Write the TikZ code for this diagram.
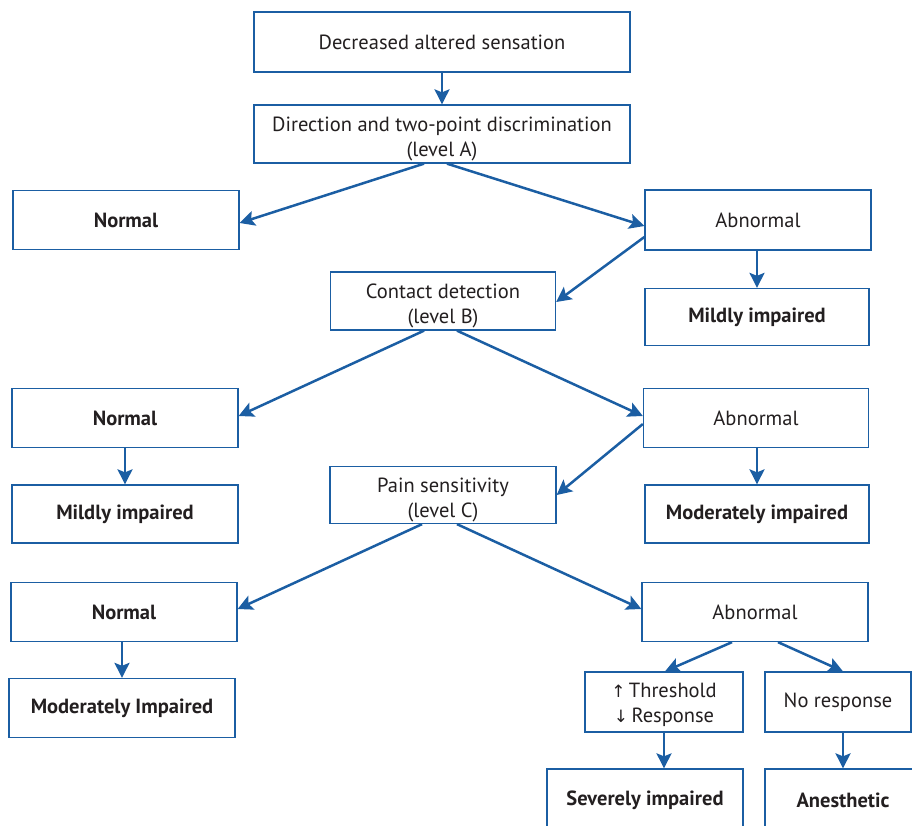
\documentclass[tikz,border=0pt]{standalone}
\usepackage{fontspec}
\setmainfont{PT Sans}
\newfontfamily\arrowfont{DejaVu Sans}
\usetikzlibrary{arrows.meta,calc}
\definecolor{fblue}{HTML}{1B5EA3}
\definecolor{ftext}{HTML}{231F20}
\newcommand{\twol}[3][-4.5pt]{\raisebox{#1}[\height][\depth]{\begin{tabular}{@{}c@{}}#2\\#3\end{tabular}}}
\tikzset{
 box/.style={draw=fblue, line width=1.3pt, text=ftext, align=center, inner sep=0pt, font=\fontsize{20.5}{25}\selectfont},
 bbox/.style={box, font=\fontsize{20.5}{25}\selectfont\bfseries},
 arr/.style={draw=fblue, line width=2.5pt, -{Stealth[length=15pt,width=15pt,inset=3pt]}}
}
\begin{document}
\begin{tikzpicture}[x=1pt,y=-1pt]
\useasboundingbox (0,0) rectangle (912,825);
\begin{scope}
\clip (0,0) rectangle (912,825);
\node[box, minimum width=376pt, minimum height=60pt] (top) at (442,42) {Decreased altered sensation};
\node[box, minimum width=376pt, minimum height=58pt] (la) at (442,134) {\twol{Direction and two-point discrimination}{(level A)}};
\node[bbox, minimum width=226pt, minimum height=59pt] (n1) at (126,220) {Normal};
\node[box, minimum width=226pt, minimum height=60pt] (a1) at (758,220) {Abnormal};
\node[bbox, minimum width=224pt, minimum height=57pt] (m1) at (757,317) {Mildly impaired};
\node[box, minimum width=225pt, minimum height=58pt] (cd) at (443,301) {\twol{Contact detection}{(level B)}};
\node[bbox, minimum width=226pt, minimum height=59pt] (n2) at (125,418) {Normal};
\node[box, minimum width=225pt, minimum height=59pt] (a2) at (756,418) {Abnormal};
\node[bbox, minimum width=226pt, minimum height=58pt] (m2) at (125,514) {Mildly impaired};
\node[box, minimum width=226pt, minimum height=57pt] (ps) at (443,495) {\twol{Pain sensitivity}{(level C)}};
\node[bbox, minimum width=224pt, minimum height=58pt] (mo1) at (757,514) {Moderately impaired};
\node[bbox, minimum width=226pt, minimum height=59pt] (n3) at (124,612) {Normal};
\node[box, minimum width=226pt, minimum height=59pt] (a3) at (755,612) {Abnormal};
\node[bbox, minimum width=226pt, minimum height=59pt] (mo2) at (122,708) {Moderately Impaired};
\node[box, minimum width=158pt, minimum height=60pt] (th) at (664,702) {\twol[-2.5pt]{{\arrowfont\fontsize{17}{25}\selectfont↑}\,Threshold}{{\arrowfont\fontsize{17}{25}\selectfont↓}\,Response}};
\node[box, minimum width=146pt, minimum height=60pt] (nr) at (838,702) {No response};
\node[bbox, minimum width=196pt, minimum height=62pt] (sev) at (645,800) {Severely impaired};
\node[bbox, minimum width=156pt, minimum height=62pt] (an) at (843,800) {Anesthetic};
\end{scope}
\draw[arr] (top.south) -- (la.north);
\draw[arr] ($(la.south)+(-18,0)$) -- ($(n1.east)+(0,3)$);
\draw[arr] ($(la.south)+(5,0)$) -- ($(a1.west)+(0,6)$);
\draw[arr] ($(a1.west)+(0,17)$) -- ($(cd.east)+(0,1)$);
\draw[arr] (a1.south |- a1.south) ++(-1,0) coordinate (a1s) (a1s) -- (a1s |- m1.north);
\draw[arr] ($(cd.south)+(-19,0)$) -- ($(n2.east)+(0,-2)$);
\draw[arr] ($(cd.south)+(14,0)$) -- ($(a2.west)+(0,-2)$);
\draw[arr] ($(a2.west)+(0,6)$) -- (ps.east);
\draw[arr] ($(a2.south)+(1,0)$) coordinate (a2s) -- (a2s |- mo1.north);
\draw[arr] (n2.south) -- (m2.north);
\draw[arr] ($(ps.south)+(-21,0)$) -- ($(n3.east)+(0,-3)$);
\draw[arr] ($(ps.south)+(14,0)$) -- ($(a3.west)+(0,-3)$);
\draw[arr] ($(n3.south)+(-2,0)$) coordinate (n3s) -- (n3s |- mo2.north);
\draw[arr] ($(a3.south)+(-23,0)$) -- ($(th.north)+(1,0)$);
\draw[arr] ($(a3.south)+(23,0)$) -- ($(nr.north)+(5,0)$);
\draw[arr] (th.south) -- (th.south |- sev.north);
\draw[arr] ($(nr.south)+(5,0)$) coordinate (nrs) -- (nrs |- an.north);
\end{tikzpicture}
\end{document}
